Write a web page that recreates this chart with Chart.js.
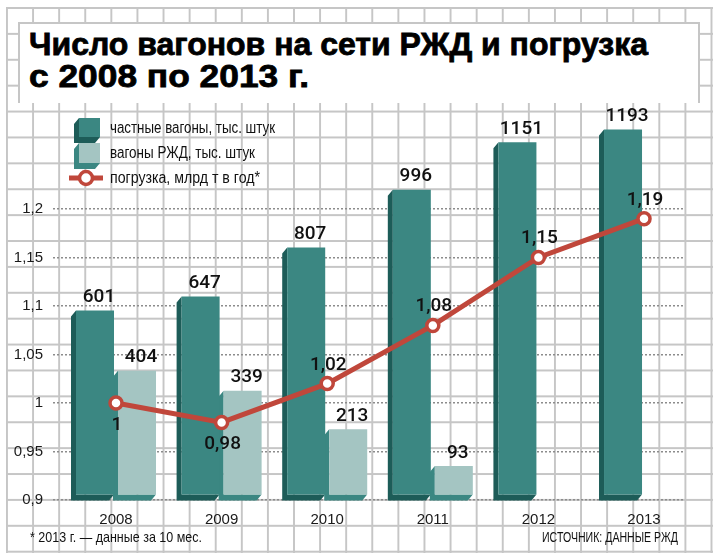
<!DOCTYPE html>
<html lang="ru">
<head>
<meta charset="utf-8">
<script src="https://cdn.jsdelivr.net/npm/chart.js@4.4.1/dist/chart.umd.min.js"></script>
<style>
  html, body { margin: 0; padding: 0; background: #fff; }
  #wrap { position: relative; width: 718px; height: 556px; overflow: hidden; font-family: "Liberation Sans", sans-serif; color: #111; }
  #paper {
    position: absolute; left: 6px; top: 7px; width: 707px; height: 546px;
    background-image: linear-gradient(to right, #c6c6c6 2px, transparent 2px),
                      linear-gradient(to bottom, #c6c6c6 2px, transparent 2px);
    background-size: 26.1px 25.9px;
  }
  #titlebox {
    position: absolute; left: 18px; top: 22px; width: 678px; height: 79px;
    background: #fff; border: 2px solid #c6c6c6; border-bottom: none;
  }
  .title {
    position: absolute; left: 29px; font-weight: bold; font-size: 32px; line-height: 32px;
    white-space: nowrap; transform-origin: 0 0; -webkit-text-stroke: 0.8px #000; color: #000;
  }
  #chart { position: absolute; left: 0; top: 0; }
  .icon { position: absolute; }
  .lt { position: absolute; left: 110px; font-size: 16px; line-height: 18px; white-space: nowrap; transform-origin: 0 0; }
  .note { position: absolute; top: 528px; font-size: 15px; line-height: 18px; white-space: nowrap; transform-origin: 0 0; }
</style>
</head>
<body>
<div id="wrap">
  <div id="paper"></div>
  <div id="titlebox"></div>
  <div class="title" id="t1" style="top:28px">Число вагонов на сети РЖД и погрузка</div>
  <div class="title" id="t2" style="top:60px">с 2008 по 2013 г.</div>
  <canvas id="chart" width="718" height="556"></canvas>

  <canvas class="icon" id="ic1" width="36" height="32" style="left:64px;top:112px"></canvas>
  <canvas class="icon" id="ic2" width="36" height="32" style="left:64px;top:138px"></canvas>
  <canvas class="icon" id="ic3" width="40" height="20" style="left:66px;top:168px"></canvas>
  <div class="lt" id="l1" style="top:119px">частные вагоны, тыс. штук</div>
  <div class="lt" id="l2" style="top:144px">вагоны РЖД, тыс. штук</div>
  <div class="lt" id="l3" style="top:169px">погрузка, млрд т в год*</div>

  <div class="note" id="n1" style="left:30px">* 2013 г. — данные за 10 мес.</div>
  <div class="note" id="n2" style="left:542px">ИСТОЧНИК: ДАННЫЕ РЖД</div>
</div>
<script>
const years = [2008, 2009, 2010, 2011, 2012, 2013];
const privateWagons = [601, 647, 807, 996, 1151, 1193];
const rzdWagons = [404, 339, 213, 93, null, null];
const loading = [1, 0.98, 1.02, 1.08, 1.15, 1.19];
const loadingTicks = [0.9, 0.95, 1, 1.05, 1.1, 1.15, 1.2];
const loadingLabelBelow = [true, true, false, false, false, false];

const TEAL = '#3b8782';
const TEAL_DARK = '#1d5c58';
const TEAL_LIGHT = '#a4c5c2';
const RED = '#c0473b';
const DX = -5, DY = 6;

const fmt = v => String(v).replace('.', ',');

// side + bottom face of a bar (depth goes down-left)
function drawFaces(ctx, xL, xR, top, bottom, side) {
  ctx.fillStyle = side;
  ctx.beginPath();
  ctx.moveTo(xL, top);
  ctx.lineTo(xL + DX, top + DY);
  ctx.lineTo(xL + DX, bottom + DY);
  ctx.lineTo(xR + DX, bottom + DY);
  ctx.lineTo(xR, bottom);
  ctx.lineTo(xL, bottom);
  ctx.closePath();
  ctx.fill();
}

const bar3d = {
  id: 'bar3d',
  beforeDatasetsDraw(chart) {
    const ctx = chart.ctx;
    ctx.save();
    chart.data.datasets.forEach((ds, i) => {
      if (!ds.sideColor) return;
      chart.getDatasetMeta(i).data.forEach((bar, j) => {
        if (ds.data[j].y == null) return;
        const p = bar.getProps(['x', 'y', 'base', 'width'], true);
        drawFaces(ctx, p.x - p.width / 2, p.x + p.width / 2, p.y, p.base, ds.sideColor);
      });
    });
    ctx.restore();
  },
  afterDatasetsDraw(chart) {
    const ctx = chart.ctx;
    ctx.save();
    ctx.font = '500 19px Roboto';
    ctx.fillStyle = '#111';
    ctx.textAlign = 'center';
    ctx.textBaseline = 'alphabetic';
    chart.data.datasets.forEach((ds, i) => {
      const meta = chart.getDatasetMeta(i);
      meta.data.forEach((el, j) => {
        const v = ds.data[j].y;
        if (v == null) return;
        if (ds.type === 'line') {
          const dy = loadingLabelBelow[j] ? 27 : -14;
          ctx.fillText(fmt(v), el.x + 1, el.y + dy);
        } else {
          ctx.fillText(String(v), el.x + 4, el.y - 8.5);
        }
      });
    });
    ctx.restore();
  }
};

new Chart(document.getElementById('chart'), {
  type: 'bar',
  data: {
    datasets: [
      {
        type: 'line',
        label: 'погрузка, млрд т в год*',
        data: years.map((x, i) => ({ x, y: loading[i] })),
        yAxisID: 'y',
        order: 1,
        borderColor: RED,
        borderWidth: 5,
        pointRadius: 6,
        pointBorderWidth: 3.5,
        pointBackgroundColor: '#fff',
        pointBorderColor: RED,
        tension: 0
      },
      {
        label: 'частные вагоны, тыс. штук',
        data: years.map((x, i) => ({ x, y: privateWagons[i] })),
        yAxisID: 'yBar',
        order: 2,
        backgroundColor: TEAL,
        sideColor: TEAL_DARK,
        categoryPercentage: 0.7955,
        barPercentage: 0.9048
      },
      {
        label: 'вагоны РЖД, тыс. штук',
        data: years.map((x, i) => ({ x, y: rzdWagons[i] })),
        yAxisID: 'yBar',
        order: 3,
        backgroundColor: TEAL_LIGHT,
        sideColor: TEAL,
        categoryPercentage: 0.7955,
        barPercentage: 0.9048
      }
    ]
  },
  options: {
    responsive: false,
    animation: false,
    layout: { padding: { top: 110, right: 33, bottom: 0, left: 0 } },
    plugins: { legend: { display: false }, tooltip: { enabled: false } },
    scales: {
      x: {
        type: 'linear',
        offset: false,
        min: 2007.4034,
        max: 2013.388,
        grid: { display: false, offset: false, drawTicks: false },
        border: { display: false },
        afterBuildTicks: s => { s.ticks = years.map(v => ({ value: v })); },
        afterFit: s => { s.height = 56; },
        ticks: {
          callback: v => String(v),
          font: { family: '"Liberation Sans", sans-serif', size: 15 },
          color: '#1a1a1a',
          padding: 11,
          autoSkip: false,
          maxRotation: 0
        }
      },
      y: {
        position: 'left',
        min: 0.9,
        max: 1.30206,
        afterBuildTicks: s => { s.ticks = loadingTicks.map(v => ({ value: v })); },
        afterFit: s => { s.width = 53; },
        grid: { color: '#8c8c8c', lineWidth: 1.5, drawTicks: false },
        border: { display: false, dash: [2, 2] },
        ticks: {
          callback: v => fmt(v),
          font: { family: '"Liberation Sans", sans-serif', size: 15 },
          color: '#1a1a1a',
          padding: 10
        }
      },
      yBar: {
        display: false,
        min: -18,
        max: 1256.5
      }
    }
  },
  plugins: [bar3d]
});

// legend icons
(function () {
  let c = document.getElementById('ic1').getContext('2d');
  drawFaces(c, 15, 36, 6, 25, TEAL_DARK);
  c.fillStyle = TEAL; c.fillRect(15, 6, 21, 19);
  c = document.getElementById('ic2').getContext('2d');
  drawFaces(c, 15, 36, 5, 25, TEAL);
  c.fillStyle = TEAL_LIGHT; c.fillRect(15, 5, 21, 20);
  c = document.getElementById('ic3').getContext('2d');
  c.strokeStyle = RED; c.lineWidth = 5;
  c.beginPath(); c.moveTo(3, 10); c.lineTo(37, 10); c.stroke();
  c.beginPath(); c.arc(20, 10, 6.5, 0, Math.PI * 2);
  c.fillStyle = '#fff'; c.fill(); c.lineWidth = 3.5; c.stroke();
})();

// squeeze text to the reference widths
function fitWidth(id, w) {
  const el = document.getElementById(id);
  const s = w / el.getBoundingClientRect().width;
  el.style.transform = 'scaleX(' + s + ')';
}
fitWidth('t1', 619);
fitWidth('t2', 280);
fitWidth('l1', 165);
fitWidth('l2', 145);
fitWidth('l3', 150);
fitWidth('n1', 172);
fitWidth('n2', 136);
</script>
</body>
</html>
